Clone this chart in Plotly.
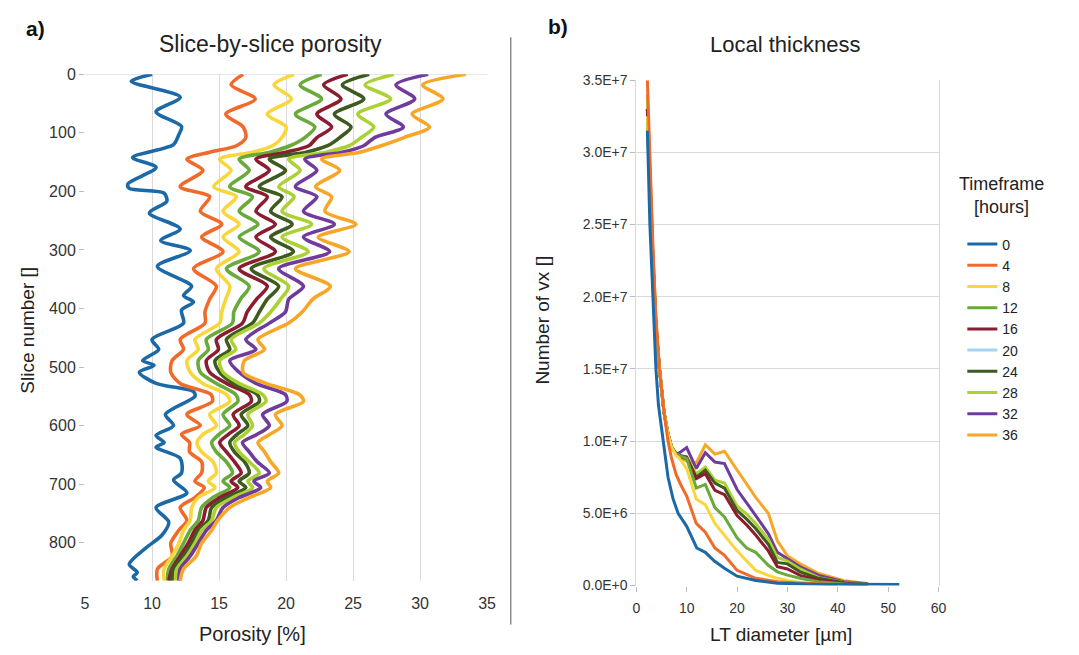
import plotly.graph_objects as go

# ---------------- data: panel a (slice-by-slice porosity) ----------------
HOURS = ["0", "4", "8", "12", "16", "20", "24", "28", "32", "36"]
COLORS = ["#1b69a7", "#f26a2a", "#f9d63a", "#68ab3a", "#8c1d31",
          "#a6d5f2", "#3d5a1f", "#acd135", "#6f3c9e", "#f7a626"]

SLICE_0 = [0, 12, 39, 64, 89, 103, 120, 142, 159, 187, 195, 203, 217, 237, 264, 284,
           301, 328, 362, 378, 389, 403, 425, 453, 470, 489, 497, 509, 528, 542, 550,
           581, 600, 617, 629, 637, 656, 681, 693, 715, 740, 765, 787, 809, 837, 851,
           858, 865]
POR_0 = [10.0, 8.45, 12.1, 10.3, 12.2, 12.0, 11.6, 8.55, 10.3, 8.2, 8.3, 10.9, 11.1,
         9.8, 12.1, 10.65, 12.85, 10.4, 12.95, 12.35, 13.1, 12.2, 12.35, 10.0, 10.5,
         9.3, 10.15, 9.05, 10.3, 13.1, 13.2, 11.0, 11.6, 10.3, 10.9, 10.3, 12.1, 12.2,
         11.6, 12.6, 10.3, 11.25, 10.75, 9.55, 8.3, 8.9, 8.6, 8.9]

SLICE_G = [0, 18, 42, 68, 90, 108, 122, 133, 145, 164, 192, 209, 234, 256, 278, 303,
           332, 362, 384, 406, 425, 453, 470, 489, 509, 528, 547, 559, 581, 600, 615,
           629, 645, 662, 681, 695, 706, 723, 740, 762, 779, 801, 823, 845, 865]
POR_4 = [16.8, 15.9, 17.7, 15.5, 16.8, 17.0, 16.3, 14.3, 12.6, 13.8,
         12.1, 14.3, 13.6, 15.2, 13.7, 15.3, 13.1, 14.8, 14.3, 13.95,
         13.95, 12.1, 12.35, 11.5, 11.4, 12.1, 14.4, 14.5, 12.6, 13.6,
         12.2, 12.8, 12.8, 13.7, 13.7, 13.2, 13.9, 13.2, 12.1, 12.6,
         12.0, 11.4, 11.5, 10.4, 10.4]
POR_8 = [20.6, 19.1, 20.4, 18.6, 20.0, 19.7, 19.0, 17.5, 15.05, 15.9,
         14.6, 16.3, 15.3, 16.5, 15.3, 16.5, 14.8, 15.8, 15.5, 15.2,
         15.05, 13.2, 13.45, 12.6, 12.85, 13.8, 15.55, 15.8, 14.3, 14.8,
         13.8, 13.35, 13.7, 14.55, 14.8, 14.2, 14.7, 13.45, 12.95, 12.85,
         12.35, 12.0, 11.5, 10.9, 10.9]
POR_12 = [22.65, 21.05, 22.65, 20.7, 22.15, 21.4, 20.3, 18.8, 16.5, 17.25,
          15.8, 17.5, 16.5, 17.9, 16.5, 18.0, 15.55, 17.25, 16.6, 16.1,
          16.0, 14.05, 14.2, 13.45, 13.6, 14.8, 16.25, 16.4, 15.3, 15.8,
          15.0, 14.45, 14.8, 15.55, 16.0, 15.3, 15.8, 14.55, 13.7, 13.45,
          12.85, 12.35, 11.85, 11.25, 11.15]
POR_16 = [24.6, 22.8, 24.1, 22.3, 23.4, 22.3, 21.7, 20.0, 17.75, 18.75,
          17.0, 18.6, 17.75, 19.2, 17.75, 19.2, 16.5, 18.6, 17.8, 17.1,
          16.75, 14.8, 14.95, 14.05, 14.3, 15.55, 17.25, 17.4, 16.05, 16.5,
          15.7, 15.05, 15.55, 16.15, 16.65, 15.9, 16.4, 15.05, 14.05, 13.8,
          13.2, 12.7, 12.1, 11.5, 11.25]
POR_24 = [26.2, 24.2, 25.8, 23.6, 24.85, 24.0, 23.1, 21.5, 18.75, 19.95,
          18.0, 19.7, 18.85, 20.45, 18.85, 20.55, 17.4, 19.45, 18.6, 18.0,
          17.5, 15.55, 15.8, 14.7, 15.05, 16.05, 17.85, 18.0, 16.65, 17.15,
          16.35, 15.8, 16.15, 16.9, 17.25, 16.5, 17.0, 15.55, 14.45, 14.2,
          13.45, 12.95, 12.35, 11.6, 11.5]
POR_28 = [28.05, 25.9, 27.8, 25.35, 26.55, 25.6, 24.7, 23.0, 20.2, 21.05,
          19.45, 20.6, 19.7, 21.9, 19.7, 21.65, 18.35, 20.2, 19.6, 18.85,
          18.0, 15.9, 16.25, 15.05, 15.3, 16.5, 18.25, 18.5, 17.15, 17.5,
          16.9, 16.15, 16.5, 17.25, 18.0, 17.15, 17.5, 16.05, 14.8, 14.45,
          13.7, 13.2, 12.6, 11.85, 11.75]
POR_32 = [30.6, 28.2, 29.6, 27.45, 28.75, 26.6, 25.8, 24.2, 21.4, 22.3,
          20.7, 22.3, 21.3, 23.6, 21.3, 23.25, 19.45, 21.3, 20.2, 19.95,
          18.75, 17.0, 17.75, 15.8, 16.5, 17.75, 19.95, 20.05, 18.25, 18.75,
          17.85, 16.75, 17.25, 17.85, 18.75, 17.6, 18.1, 16.5, 15.3, 14.8,
          14.05, 13.45, 12.85, 12.1, 12.0]
POR_36 = [33.4, 30.2, 31.7, 29.4, 30.7, 28.8, 27.1, 25.5, 22.65, 24.0,
          22.2, 23.4, 22.9, 25.2, 22.4, 24.7, 20.7, 23.3, 22.0, 21.2,
          20.2, 17.9, 18.4, 16.9, 16.8, 18.5, 21.0, 21.3, 19.2, 19.7,
          18.8, 17.9, 18.4, 18.85, 19.45, 18.6, 18.85, 17.25, 15.8, 14.9,
          14.45, 13.7, 13.3, 12.35, 12.1]

# ---------------- data: panel b (local thickness) ----------------
LT_0 = [2.2, 2.7, 3.3, 3.9, 4.4, 5.3, 6.3, 7.3, 8.3, 10.0, 12.0, 13.7, 15.5, 17.5,
        20.0, 23.7, 28.0, 33.7, 40.0, 46.0, 52.2]
VX_0 = [3.15e7, 2.5e7, 2.0e7, 1.5e7, 1.25e7, 1.0e7, 7.5e6, 6.0e6, 5.0e6, 4.1e6,
        2.6e6, 2.3e6, 1.7e6, 1.2e6, 0.65e6, 0.35e6, 0.16e6, 0.1e6, 0.09e6, 0.08e6, 0.08e6]
LT_4 = [2.2, 2.7, 3.3, 3.9, 4.6, 5.5, 6.3, 7.0, 7.9, 8.8, 10.0, 11.9, 13.7, 15.6,
        17.5, 20.0, 23.7, 28.0, 33.7, 40.0]
VX_4 = [3.5e7, 2.9e7, 2.35e7, 1.85e7, 1.5e7, 1.2e7, 1.0e7, 8.8e6, 7.7e6, 7.0e6,
        6.2e6, 4.3e6, 3.7e6, 2.6e6, 2.1e6, 1.05e6, 0.5e6, 0.27e6, 0.15e6, 0.08e6]
LT_G = [2.2, 2.7, 3.3, 3.9, 4.6, 5.5, 6.3, 7.0, 7.9, 8.6, 10.0, 11.9, 13.7, 15.6,
        17.5, 20.0, 21.9, 23.7, 26.2, 28.0, 30.0, 32.5, 36.2, 41.2, 46.0]
VX_8 = [3.25e7, 2.75e7, 2.25e7, 1.8e7, 1.5e7, 1.2e7, 1.05e7, 9.6e6, 9.0e6, 8.8e6,
        8.1e6, 6.0e6, 5.6e6, 4.3e6, 3.5e6, 2.4e6, 1.7e6, 1.05e6, 0.7e6, 0.5e6,
        0.35e6, 0.22e6, 0.12e6, 0.06e6, 0.04e6]
VX_12 = [3.2e7, 2.7e7, 2.2e7, 1.8e7, 1.5e7, 1.2e7, 1.05e7, 9.6e6, 9.1e6, 9.0e6,
         8.8e6, 6.75e6, 7.0e6, 5.4e6, 4.75e6, 3.3e6, 2.6e6, 2.3e6, 1.4e6, 0.95e6,
         0.72e6, 0.5e6, 0.27e6, 0.1e6, 0.05e6]
VX_16 = [3.3e7, 2.8e7, 2.25e7, 1.8e7, 1.5e7, 1.2e7, 1.05e7, 9.6e6, 9.1e6, 9.0e6,
         8.9e6, 7.4e6, 7.75e6, 6.6e6, 6.3e6, 4.85e6, 4.2e6, 3.5e6, 2.4e6, 1.3e6,
         1.15e6, 0.7e6, 0.38e6, 0.15e6, 0.06e6]
LT_20 = [36.2, 41.2, 46.0]
VX_20 = [0.25e6, 0.12e6, 0.06e6]
VX_24 = [3.3e7, 2.8e7, 2.25e7, 1.8e7, 1.5e7, 1.2e7, 1.05e7, 9.6e6, 9.1e6, 8.9e6,
         8.8e6, 7.5e6, 8.0e6, 7.1e6, 6.75e6, 5.2e6, 4.6e6, 3.95e6, 2.85e6, 1.6e6,
         1.5e6, 0.95e6, 0.5e6, 0.2e6, 0.07e6]
VX_28 = [3.35e7, 2.85e7, 2.3e7, 1.8e7, 1.5e7, 1.2e7, 1.05e7, 9.6e6, 9.1e6, 9.0e6,
         8.9e6, 7.75e6, 8.2e6, 7.3e6, 7.1e6, 5.5e6, 4.95e6, 4.3e6, 3.2e6, 1.95e6,
         1.7e6, 1.15e6, 0.55e6, 0.22e6, 0.08e6]
VX_32 = [3.3e7, 2.8e7, 2.25e7, 1.8e7, 1.5e7, 1.2e7, 1.05e7, 9.6e6, 9.1e6, 9.2e6,
         9.55e6, 8.1e6, 9.2e6, 8.55e6, 8.45e6, 6.65e6, 5.75e6, 4.85e6, 3.6e6, 2.3e6,
         1.85e6, 1.3e6, 0.7e6, 0.27e6, 0.1e6]
VX_36 = [3.4e7, 2.85e7, 2.3e7, 1.85e7, 1.5e7, 1.2e7, 1.05e7, 9.6e6, 9.1e6, 8.9e6,
         8.6e6, 8.5e6, 9.75e6, 9.1e6, 9.3e6, 8.0e6, 7.0e6, 6.1e6, 5.0e6, 3.1e6,
         2.05e6, 1.5e6, 0.83e6, 0.34e6, 0.15e6]

POR_X_TICKS = [5, 10, 15, 20, 25, 30, 35]
SLICE_TICKS = [0, 100, 200, 300, 400, 500, 600, 700, 800]
LT_X_TICKS = [0, 10, 20, 30, 40, 50, 60]
VX_TICKS = [0, 5e6, 1e7, 1.5e7, 2e7, 2.5e7, 3e7, 3.5e7]
VX_TICK_TEXT = ["0.0E+0", "5.0E+6", "1.0E+7", "1.5E+7", "2.0E+7", "2.5E+7", "3.0E+7", "3.5E+7"]

left_series = [
    ("0", SLICE_0, POR_0), ("4", SLICE_G, POR_4), ("8", SLICE_G, POR_8),
    ("12", SLICE_G, POR_12), ("16", SLICE_G, POR_16), ("24", SLICE_G, POR_24),
    ("28", SLICE_G, POR_28), ("32", SLICE_G, POR_32), ("36", SLICE_G, POR_36),
]
right_series = [
    ("0", LT_0, VX_0), ("4", LT_4, VX_4), ("8", LT_G, VX_8), ("12", LT_G, VX_12),
    ("16", LT_G, VX_16), ("20", LT_20, VX_20), ("24", LT_G, VX_24),
    ("28", LT_G, VX_28), ("32", LT_G, VX_32), ("36", LT_G, VX_36),
]
color_of = dict(zip(HOURS, COLORS))

FONT = "Liberation Sans, Arial, sans-serif"
W, H = 1079, 655

fig = go.Figure()

for name, s, p in left_series:
    fig.add_trace(go.Scatter(x=p, y=s, mode="lines", name=name, showlegend=False,
                             line=dict(color=color_of[name], width=3.6,
                                       shape="spline", smoothing=0.8),
                             xaxis="x", yaxis="y"))

for name, lt, vx in reversed(right_series):
    fig.add_trace(go.Scatter(x=lt, y=vx, mode="lines", name=name, legendrank=int(name),
                             line=dict(color=color_of[name], width=3),
                             xaxis="x2", yaxis="y2"))


def px_x(v):
    return v / W


def px_y(v):
    return 1 - v / H


grid = "#d9d9d9"
TICK_COLOR = "#333333"


def label(text, x, y, size=16, angle=0, bold=False, color="#222222"):
    return dict(text=f"<b>{text}</b>" if bold else text, x=px_x(x), y=px_y(y),
                xref="paper", yref="paper", xanchor="center", yanchor="middle",
                showarrow=False, textangle=angle,
                font=dict(family=FONT, size=size, color=color))


fig.update_layout(
    width=W, height=H,
    margin=dict(l=0, r=0, t=0, b=0),
    paper_bgcolor="white", plot_bgcolor="white",
    font=dict(family=FONT, color="#222222"),
    xaxis=dict(domain=[px_x(82), px_x(489)], range=[5, 35], tickvals=POR_X_TICKS,
               showgrid=True, gridcolor=grid, gridwidth=1, zeroline=False,
               showline=False, ticks="outside", ticklen=6,
               tickcolor="rgba(0,0,0,0)",
               tickfont=dict(family=FONT, size=16, color=TICK_COLOR), anchor="y",
               ticklabelstandoff=2),
    yaxis=dict(domain=[px_y(587), px_y(68)], range=[865, 0], tickvals=SLICE_TICKS,
               showgrid=False, zeroline=False, showline=False, ticks="outside",
               ticklen=5, tickcolor="#bbbbbb",
               tickfont=dict(family=FONT, size=16, color=TICK_COLOR), anchor="x"),
    xaxis2=dict(domain=[px_x(640), px_x(946)], range=[0, 60], tickvals=LT_X_TICKS,
                showgrid=False, zeroline=False, showline=False, ticks="outside",
                ticklen=5, tickcolor="#bbbbbb",
                tickfont=dict(family=FONT, size=14, color=TICK_COLOR), anchor="y2",
                ticklabelstandoff=5),
    yaxis2=dict(domain=[px_y(592), px_y(74)], range=[0, 3.5e7], tickvals=VX_TICKS,
                ticktext=VX_TICK_TEXT, showgrid=True, gridcolor=grid, zeroline=False,
                showline=True, linecolor=grid, mirror=True, ticks="outside",
                ticklen=5, tickcolor="#bbbbbb",
                tickfont=dict(family=FONT, size=14, color=TICK_COLOR), anchor="x2"),
    legend=dict(x=px_x(970), y=px_y(226), xanchor="left", yanchor="top",
                traceorder="normal", font=dict(family=FONT, size=14, color="#222222"),
                bgcolor="rgba(0,0,0,0)", itemwidth=30, tracegroupgap=0),
    shapes=[
        dict(type="line", xref="x domain", yref="y", x0=0, x1=1, y0=0, y1=0,
             line=dict(color=grid, width=1), layer="below"),
        dict(type="line", xref="paper", yref="paper", x0=px_x(513), x1=px_x(513),
             y0=px_y(632), y1=px_y(30), line=dict(color="#555555", width=1)),
    ],
    annotations=[
        label("a)", 32, 21, size=21, bold=True, color="#111111"),
        label("b)", 561, 19, size=21, bold=True, color="#111111"),
        label("Slice-by-slice porosity", 270, 37, size=23),
        label("Local thickness", 791, 37, size=22),
        label("Porosity [%]", 252, 642, size=20),
        label("Slice number []", 24, 330, size=19, angle=-90),
        label("LT diameter [µm]", 786, 642, size=19),
        label("Number of vx []", 545, 320, size=19, angle=-90),
        label("Timeframe", 1010, 180, size=18),
        label("[hours]", 1010, 204, size=18),
    ],
)

fig.write_html("out.html")
